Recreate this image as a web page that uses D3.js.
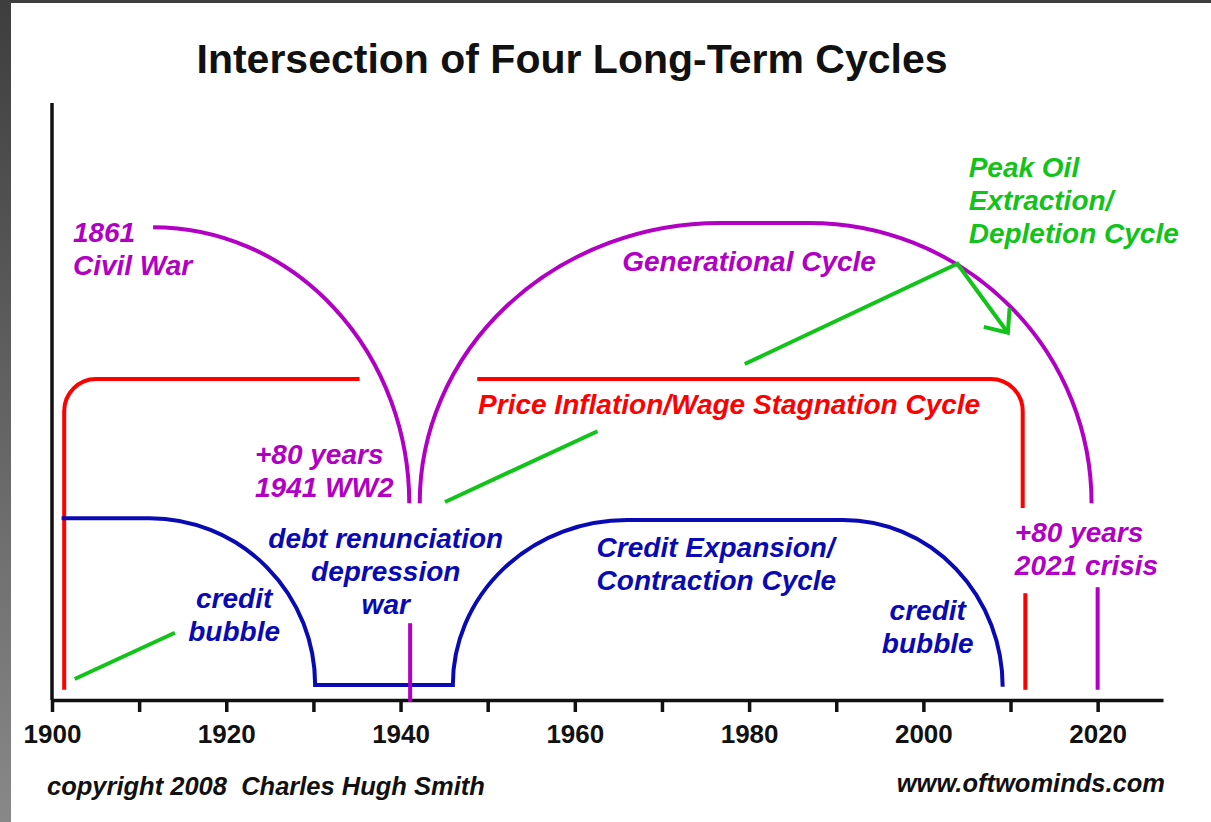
<!DOCTYPE html>
<html>
<head>
<meta charset="utf-8">
<script src="https://cdn.jsdelivr.net/npm/d3@7"></script>
<style>
  body { margin: 0; background: #fff; }
  svg text { font-family: 'Liberation Sans', Arial, Helvetica, sans-serif; }
  .axis text { font-size: 26px; font-weight: bold; fill: #111; }
  .label { font-size: 28px; font-weight: bold; font-style: italic; }
  .footer { font-size: 25.5px; font-weight: bold; font-style: italic; fill: #111; white-space: pre; }
</style>
</head>
<body>
<svg id="svg" width="1211" height="822"></svg>
<script>
// points are [year, level]; level 0 = time axis, 100 = top of the vertical axis
// cycle curves: equal levels are joined straight, a change of level is a quarter ellipse
const tickYears = [1900, 1910, 1920, 1930, 1940, 1950, 1960, 1970, 1980, 1990, 2000, 2010, 2020];

// generational cycle (purple)
const civilWarArc = [[1911.6, 78.8], [1941.0, 32.8]];
const generationalArc = [[1942.2, 32.8], [1976.7, 79.5], [1986.9, 79.5], [2019.3, 32.8]];
const crisisMarks = [[[1941.1, 12.8], [1941.1, -0.3]], [[2020.0, 18.8], [2020.0, 1.7]]];

// price inflation / wage stagnation cycle (red): start, corner, end
const inflationLeft = [[1901.4, 1.7], [1901.4, 53.5], [1935.3, 53.5]];
const inflationRight = [[1948.8, 53.5], [2011.4, 53.5], [2011.4, 32.0]];
const inflationTail = [[2011.7, 17.8], [2011.7, 1.7]];

// credit expansion / contraction cycle (blue)
const creditCycle = [[1901.1, 30.3], [1911.2, 30.3], [1930.2, 2.5], [1946.0, 2.5],
  [1966.0, 30.0], [1990.8, 30.0], [2009.1, 2.2]];

// peak oil extraction / depletion cycle (green)
const peakOilSegments = [
  [[1902.6, 3.5], [1914.1, 11.2]],
  [[1945.1, 33.0], [1962.6, 44.8]]
];
const peakOilArrow = [[1979.5, 56.0], [2003.9, 72.7], [2009.7, 61.2]];

const annotations = [
  { lines: ['1861', 'Civil War'], year: 1902.4, level: 76.3, anchor: 'start', cycle: 'purple' },
  { lines: ['Generational Cycle'], year: 1980.0, level: 71.5, anchor: 'middle', cycle: 'purple' },
  { lines: ['Peak Oil', 'Extraction/', 'Depletion Cycle'], year: 2005.2, level: 87.2, anchor: 'start', cycle: 'green' },
  { lines: ['Price Inflation/Wage Stagnation Cycle'], year: 1948.9, level: 47.7, anchor: 'start', cycle: 'red' },
  { lines: ['+80 years', '1941 WW2'], year: 1923.3, level: 39.3, anchor: 'start', cycle: 'purple' },
  { lines: ['debt renunciation', 'depression', 'war'], year: 1938.3, level: 25.3, anchor: 'middle', cycle: 'blue' },
  { lines: ['credit', 'bubble'], year: 1920.9, level: 15.3, anchor: 'middle', cycle: 'blue' },
  { lines: ['Credit Expansion/', 'Contraction Cycle'], year: 1962.5, level: 23.8, anchor: 'start', cycle: 'blue' },
  { lines: ['credit', 'bubble'], year: 2000.5, level: 13.3, anchor: 'middle', cycle: 'blue' },
  { lines: ['+80 years', '2021 crisis'], year: 2010.5, level: 26.3, anchor: 'start', cycle: 'purple' }
];

class CyclesChart {
  constructor(_config) {
    this.config = {
      width: _config.width,
      height: _config.height,
      lineGap: 33,
      cornerRadius: 32
    };
    this.colours = { purple: '#b100c4', red: '#ff0000', blue: '#0a0ab4', green: '#12c31a' };
    this.initVis();
  }

  initVis() {
    let vis = this;
    vis.svg = d3.select('#svg');

    // dark frame on the top / left edge
    let defs = vis.svg.append('defs');
    let grad = defs.append('linearGradient')
      .attr('id', 'frameGrad').attr('x1', 0).attr('y1', 0).attr('x2', 0).attr('y2', 1);
    grad.append('stop').attr('offset', '0%').attr('stop-color', '#3e3e3e');
    grad.append('stop').attr('offset', '100%').attr('stop-color', '#888');
    vis.svg.append('rect').attr('width', vis.config.width).attr('height', vis.config.height).attr('fill', 'url(#frameGrad)');
    vis.svg.append('rect').attr('x', 11).attr('y', 3)
      .attr('width', vis.config.width - 11).attr('height', vis.config.height - 3).attr('fill', '#fff');

    defs.append('marker')
      .attr('id', 'arrowHead')
      .attr('markerUnits', 'userSpaceOnUse')
      .attr('orient', 'auto')
      .attr('markerWidth', 40).attr('markerHeight', 40)
      .attr('viewBox', '-30 -20 40 40')
      .style('overflow', 'visible')
      .append('path')
      .attr('d', 'M-19,-16L0,0L-19,16')
      .attr('fill', 'none')
      .attr('stroke', vis.colours.green)
      .attr('stroke-width', 4);

    vis.xScale = d3.scaleLinear().domain([1900, 2027.5]).range([52, 1163]);
    vis.yScale = d3.scaleLinear().domain([0, 100]).range([700, 100]);

    vis.svg.append('text')
      .attr('x', 572).attr('y', 73)
      .attr('text-anchor', 'middle')
      .style('font-size', '41px').style('font-weight', 'bold').style('fill', '#111')
      .text('Intersection of Four Long-Term Cycles');

    vis.xAxis = d3.axisBottom(vis.xScale)
      .tickValues(tickYears)
      .tickFormat(d => d % 20 === 0 ? d : '')
      .tickSize(12)
      .tickSizeOuter(0)
      .tickPadding(13);

    vis.xAxisG = vis.svg.append('g')
      .attr('class', 'axis x-axis')
      .attr('transform', `translate(0,${vis.yScale(0)})`)
      .call(vis.xAxis);
    vis.xAxisG.selectAll('path.domain, line').attr('stroke', '#111').attr('stroke-width', 3.5);

    vis.svg.append('line')
      .attr('x1', vis.xScale(1900)).attr('x2', vis.xScale(1900))
      .attr('y1', vis.yScale(99.5)).attr('y2', vis.yScale(0))
      .attr('stroke', '#111').attr('stroke-width', 3.5);

    vis.svg.append('text').attr('class', 'footer')
      .attr('x', 47).attr('y', 795)
      .text('copyright 2008  Charles Hugh Smith');
    vis.svg.append('text').attr('class', 'footer')
      .attr('x', 1165).attr('y', 792).attr('text-anchor', 'end')
      .text('www.oftwominds.com');

    vis.renderVis();
  }

  renderVis() {
    let vis = this;
    let x = vis.xScale, y = vis.yScale;

    let straight = d3.line().x(d => x(d[0])).y(d => y(d[1]));
    // flat runs stay straight, rises and falls are quarter ellipses bulging upwards
    let cyclePath = pts => pts.reduce((s, d, i) => {
      let px = x(d[0]), py = y(d[1]);
      if (i === 0) return `M${px},${py}`;
      let prev = pts[i - 1];
      if (prev[1] === d[1]) return s + `L${px},${py}`;
      let rx = Math.abs(px - x(prev[0])), ry = Math.abs(py - y(prev[1]));
      return s + `A${rx},${ry} 0 0 1 ${px},${py}`;
    }, '');
    let rounded = pts => {
      let p = d3.path();
      p.moveTo(x(pts[0][0]), y(pts[0][1]));
      p.arcTo(x(pts[1][0]), y(pts[1][1]), x(pts[2][0]), y(pts[2][1]), vis.config.cornerRadius);
      p.lineTo(x(pts[2][0]), y(pts[2][1]));
      return p.toString();
    };

    let marks = vis.svg.append('g').attr('fill', 'none');

    // red
    marks.selectAll('.inflation')
      .data([inflationLeft, inflationRight])
      .join('path')
      .attr('class', 'inflation')
      .attr('d', rounded)
      .attr('stroke', vis.colours.red).attr('stroke-width', 4);
    marks.append('path').attr('d', straight(inflationTail))
      .attr('stroke', vis.colours.red).attr('stroke-width', 4);

    // blue
    marks.append('path').attr('d', cyclePath(creditCycle))
      .attr('stroke', vis.colours.blue).attr('stroke-width', 4);

    // purple
    marks.selectAll('.generation')
      .data([civilWarArc, generationalArc])
      .join('path')
      .attr('class', 'generation')
      .attr('d', cyclePath)
      .attr('stroke', vis.colours.purple).attr('stroke-width', 4);
    marks.selectAll('.crisis')
      .data(crisisMarks)
      .join('path')
      .attr('class', 'crisis')
      .attr('d', straight)
      .attr('stroke', vis.colours.purple).attr('stroke-width', 4);

    // green
    marks.selectAll('.peakOil')
      .data(peakOilSegments)
      .join('path')
      .attr('class', 'peakOil')
      .attr('d', straight)
      .attr('stroke', vis.colours.green).attr('stroke-width', 4);
    marks.append('path').attr('d', straight(peakOilArrow))
      .attr('stroke', vis.colours.green).attr('stroke-width', 4)
      .attr('marker-end', 'url(#arrowHead)');

    // labels
    vis.svg.selectAll('.label')
      .data(annotations)
      .join('text')
      .attr('class', 'label')
      .attr('text-anchor', d => d.anchor)
      .attr('fill', d => vis.colours[d.cycle])
      .each(function (d) {
        d3.select(this).selectAll('tspan')
          .data(d.lines)
          .join('tspan')
          .attr('x', x(d.year))
          .attr('y', (l, i) => y(d.level) + i * vis.config.lineGap)
          .text(l => l);
      });
  }
}

new CyclesChart({ width: 1211, height: 822 });
</script>
</body>
</html>
